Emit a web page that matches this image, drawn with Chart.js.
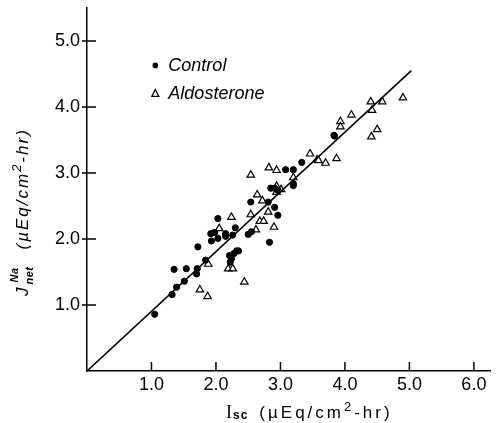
<!DOCTYPE html>
<html>
<head>
<meta charset="utf-8">
<script src="https://cdn.jsdelivr.net/npm/chart.js@4/dist/chart.umd.min.js"></script>
<style>
  html, body { margin: 0; padding: 0; background: #fff; }
  #wrap { width: 496px; height: 423px; }
</style>
</head>
<body>
<div id="wrap"><canvas id="scatterChart"></canvas></div>
<script>
// Control (filled dots): Isc, J net
var controlX = [1.05, 1.32, 1.39, 1.35, 1.54, 1.51, 1.70, 1.71, 1.72, 1.84, 1.93, 1.92, 1.98, 2.03, 2.03, 2.15, 2.15, 2.26, 2.30, 2.21, 2.24, 2.28, 2.32, 2.35, 2.22, 2.50, 2.55, 2.54, 2.81, 2.83, 2.91, 2.96, 2.85, 2.91, 2.96, 3.08, 3.20, 3.20, 3.20, 3.33, 3.83, 3.84];
var controlY = [0.86, 1.16, 1.27, 1.54, 1.55, 1.36, 1.47, 1.55, 1.88, 1.68, 1.97, 2.08, 2.10, 2.31, 2.01, 2.08, 2.04, 2.06, 2.17, 1.75, 1.70, 1.78, 1.82, 1.82, 1.65, 2.07, 2.11, 2.56, 2.56, 1.95, 2.48, 2.36, 2.77, 2.77, 2.74, 3.05, 3.05, 2.84, 2.81, 3.16, 3.57, 3.56];

// Aldosterone (open triangles)
var aldoX = [1.88, 1.75, 1.87, 2.19, 2.26, 2.24, 2.05, 2.44, 2.54, 2.54, 2.62, 2.68, 2.74, 2.64, 2.72, 2.81, 2.90, 2.82, 2.94, 2.94, 2.94, 3.01, 3.20, 3.46, 3.57, 3.59, 3.70, 3.87, 3.93, 3.93, 4.10, 4.40, 4.42, 4.58, 4.90, 4.41, 4.50];
var aldoY = [1.62, 1.23, 1.13, 1.55, 1.55, 2.33, 2.16, 1.35, 2.97, 2.37, 2.14, 2.27, 2.27, 2.67, 2.58, 2.41, 2.18, 3.08, 3.04, 2.80, 2.71, 2.75, 2.93, 3.29, 3.20, 3.19, 3.15, 3.22, 3.78, 3.70, 3.88, 4.08, 3.95, 4.08, 4.14, 3.55, 3.66];

// fitted line through origin
var fitX = [0, 5.03];
var fitY = [0, 4.55];

var xTicks = [1, 2, 3, 4, 5, 6];
var yTicks = [1, 2, 3, 4, 5];
var seriesLabels = ['Control', 'Aldosterone'];

function pairs(xs, ys) {
    return xs.map(function (v, i) { return { x: v, y: ys[i] }; });
}

var FONT = '"Liberation Sans", Arial, sans-serif';

// inward tick marks + legend + axis titles
var decorPlugin = {
    id: 'decor',
    afterDraw: function (chart) {
        var ctx = chart.ctx;
        var xs = chart.scales.x, ys = chart.scales.y;
        var area = chart.chartArea;
        ctx.save();
        ctx.strokeStyle = '#000';
        ctx.lineWidth = 1.5;
        xTicks.forEach(function (v) {
            var px = xs.getPixelForValue(v);
            ctx.beginPath();
            ctx.moveTo(px, area.bottom);
            ctx.lineTo(px, area.bottom - 9);
            ctx.stroke();
        });
        yTicks.forEach(function (v) {
            var py = ys.getPixelForValue(v);
            ctx.beginPath();
            ctx.moveTo(area.left - 5, py);
            ctx.lineTo(area.left + 9, py);
            ctx.stroke();
        });

        // legend
        var lx = xs.getPixelForValue(1.06), ly = ys.getPixelForValue(4.63);
        ctx.fillStyle = '#000';
        ctx.beginPath();
        ctx.arc(lx, ly, 2.8, 0, Math.PI * 2);
        ctx.fill();
        ctx.lineWidth = 1.2;
        ctx.beginPath();
        ctx.moveTo(lx, ly + 24);
        ctx.lineTo(lx + 3.5, ly + 31);
        ctx.lineTo(lx - 3.5, ly + 31);
        ctx.closePath();
        ctx.stroke();
        ctx.font = 'italic 18px ' + FONT;
        ctx.textBaseline = 'middle';
        ctx.textAlign = 'left';
        ctx.fillText(seriesLabels[0], lx + 13, ly + 1);
        ctx.fillText(seriesLabels[1], lx + 13, ly + 29);

        // x title: Isc (µEq/cm²-hr)
        ctx.textBaseline = 'alphabetic';
        var bx = 226, by = 418;
        ctx.font = '18px "Liberation Serif", serif';
        ctx.fillText('I', bx, by);
        bx += ctx.measureText('I').width + 1;
        ctx.font = 'bold 12px ' + FONT;
        ctx.letterSpacing = '1px';
        ctx.fillText('sc', bx, by + 1);
        bx += ctx.measureText('sc').width + 11;
        ctx.font = '17px ' + FONT;
        ctx.letterSpacing = '3px';
        ctx.fillText('(\u00b5Eq/cm', bx, by);
        bx += ctx.measureText('(\u00b5Eq/cm').width;
        ctx.font = '13px ' + FONT;
        ctx.fillText('2', bx, by - 7);
        bx += ctx.measureText('2').width;
        ctx.font = '17px ' + FONT;
        ctx.fillText('-hr)', bx, by);

        // y title: J^Na_net (µEq/cm²-hr), rotated
        ctx.translate(28, 296);
        ctx.rotate(-Math.PI / 2);
        var tx = 0;
        ctx.letterSpacing = '0px';
        ctx.font = 'italic 17px ' + FONT;
        ctx.fillText('J', tx, 0);
        tx += ctx.measureText('J').width + 3;
        ctx.font = 'italic bold 11px ' + FONT;
        ctx.letterSpacing = '0.5px';
        ctx.fillText('Na', tx + 2, -10);
        ctx.fillText('net', tx, 5);
        tx += ctx.measureText('net').width + 17;
        ctx.font = 'italic 17px ' + FONT;
        ctx.letterSpacing = '2px';
        ctx.fillText('(\u00b5Eq/cm', tx, 0);
        tx += ctx.measureText('(\u00b5Eq/cm').width;
        ctx.font = 'italic 13px ' + FONT;
        ctx.fillText('2', tx, -7);
        tx += ctx.measureText('2').width;
        ctx.font = 'italic 17px ' + FONT;
        ctx.fillText('-hr)', tx, 0);
        ctx.restore();
    }
};

var ctxScatter = document.getElementById('scatterChart').getContext('2d');
var myScatter = new Chart(ctxScatter, {
    type: 'scatter',
    data: {
        datasets: [{
            type: 'line',
            label: 'fit',
            data: pairs(fitX, fitY),
            borderColor: '#000',
            borderWidth: 1.6,
            pointRadius: 0,
            fill: false
        }, {
            label: seriesLabels[0],
            data: pairs(controlX, controlY),
            backgroundColor: '#000',
            borderColor: '#000',
            pointRadius: 3.1,
            pointStyle: 'circle'
        }, {
            label: seriesLabels[1],
            data: pairs(aldoX, aldoY),
            backgroundColor: '#fff',
            borderColor: '#000',
            borderWidth: 1.2,
            pointRadius: 4.3,
            pointStyle: 'triangle'
        }]
    },
    options: {
        responsive: true,
        maintainAspectRatio: false,
        animation: false,
        layout: { padding: { top: 8, right: 6, left: 0, bottom: 0 } },
        plugins: {
            legend: { display: false },
            tooltip: { enabled: false }
        },
        scales: {
            x: {
                type: 'linear',
                min: 0,
                max: 6.25,
                grid: { display: false, drawTicks: false },
                border: { display: true, color: '#000', width: 1.5 },
                afterBuildTicks: function (scale) {
                    scale.ticks = xTicks.map(function (v) { return { value: v }; });
                },
                afterFit: function (scale) {
                    scale.height = 52;
                    scale.paddingLeft = 0;
                    scale.paddingRight = 0;
                },
                ticks: {
                    color: '#000',
                    padding: 3,
                    maxRotation: 0,
                    font: { family: FONT, size: 18 },
                    callback: function (v) { return Number(v).toFixed(1); }
                }
            },
            y: {
                type: 'linear',
                min: 0,
                max: 5.5,
                grid: { display: false, drawTicks: false },
                border: { display: true, color: '#000', width: 1.5 },
                afterBuildTicks: function (scale) {
                    scale.ticks = yTicks.map(function (v) { return { value: v }; });
                },
                afterFit: function (scale) {
                    scale.width = 87;
                    scale.paddingTop = 0;
                    scale.paddingBottom = 0;
                },
                ticks: {
                    color: '#000',
                    padding: 7,
                    font: { family: FONT, size: 18 },
                    callback: function (v) { return Number(v).toFixed(1); }
                }
            }
        }
    },
    plugins: [decorPlugin]
});
</script>
</body>
</html>
